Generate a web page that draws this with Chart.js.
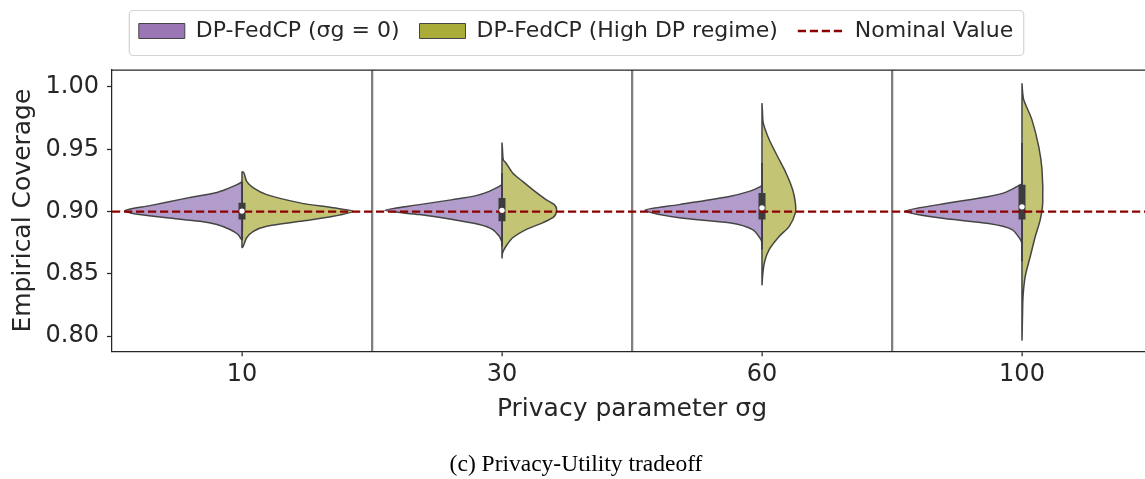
<!DOCTYPE html>
<html><head><meta charset="utf-8">
<script src="https://cdn.jsdelivr.net/npm/chart.js@4.4.1/dist/chart.umd.min.js"></script>
<style>html,body{margin:0;padding:0;overflow:hidden;background:#fff}#wrap{width:1160px;height:479px;position:relative}</style>
</head><body><div id="wrap"><canvas id="c"></canvas></div>
<script>
// ---------- data ----------
const categories = ['10', '30', '60', '100'];
const yTicks = [0.80, 0.85, 0.90, 0.95, 1.00];
const nominalValue = 0.90;
const seriesNames = ['DP-FedCP (σg = 0)', 'DP-FedCP (High DP regime)', 'Nominal Value'];

// DP-FedCP (sigma_g = 0): coverage levels (top -> bottom) and relative density
const baseLevels10 = [0.9238, 0.9216, 0.9182, 0.9154, 0.9102, 0.9048, 0.9008, 0.8984, 0.8950, 0.8922, 0.8896, 0.8856, 0.8816, 0.8776];
const baseDensity10 = [0, 0.043, 0.128, 0.214, 0.504, 0.786, 1, 0.932, 0.641, 0.359, 0.214, 0.103, 0.034, 0];
const baseLevels30 = [0.9216, 0.9202, 0.9162, 0.9128, 0.9096, 0.9056, 0.9010, 0.8976, 0.8936, 0.8896, 0.8856, 0.8802, 0.8762];
const baseDensity30 = [0, 0.023, 0.109, 0.222, 0.421, 0.707, 1, 0.707, 0.421, 0.194, 0.079, 0.023, 0];
const baseLevels60 = [0.9216, 0.9202, 0.9162, 0.9122, 0.9056, 0.9010, 0.8950, 0.8910, 0.8856, 0.8776, 0.8750];
const baseDensity60 = [0, 0.009, 0.109, 0.279, 0.707, 1, 0.707, 0.279, 0.080, 0.009, 0];
const baseLevels100 = [0.9222, 0.9208, 0.9154, 0.9122, 0.9056, 0.9002, 0.8950, 0.8904, 0.8856, 0.8776, 0.8750];
const baseDensity100 = [0, 0.028, 0.142, 0.285, 0.712, 1, 0.712, 0.285, 0.085, 0.014, 0];

// DP-FedCP (High DP regime)
const highLevels10 = [0.9322, 0.9310, 0.9242, 0.9190, 0.9136, 0.9070, 0.9030, 0.9002, 0.8962, 0.8922, 0.8882, 0.8842, 0.8790, 0.8722, 0.8712];
const highDensity10 = [0, 0.017, 0.040, 0.097, 0.211, 0.496, 0.780, 0.951, 0.780, 0.496, 0.211, 0.097, 0.040, 0.011, 0];
const highLevels30 = [0.9554, 0.9500, 0.9416, 0.9390, 0.9310, 0.9242, 0.9176, 0.9096, 0.9056, 0.9016, 0.8962, 0.8910, 0.8856, 0.8790, 0.8722, 0.8670, 0.8630];
const highDensity30 = [0, 0.004, 0.011, 0.034, 0.091, 0.176, 0.262, 0.376, 0.447, 0.467, 0.447, 0.347, 0.205, 0.091, 0.034, 0.005, 0];
const highLevels60 = [0.9870, 0.9800, 0.9710, 0.9576, 0.9442, 0.9310, 0.9176, 0.9070, 0.8990, 0.8882, 0.8802, 0.8696, 0.8590, 0.8482, 0.8416];
const highDensity60 = [0, 0.004, 0.011, 0.062, 0.133, 0.205, 0.262, 0.285, 0.285, 0.233, 0.148, 0.062, 0.020, 0.005, 0];
const highLevels100 = [1.0030, 0.9960, 0.9896, 0.9736, 0.9522, 0.9336, 0.9070, 0.8936, 0.8802, 0.8642, 0.8482, 0.8322, 0.8150, 0.7976];
const highDensity100 = [0, 0.005, 0.015, 0.085, 0.143, 0.171, 0.177, 0.156, 0.114, 0.071, 0.028, 0.009, 0.004, 0];

// inner box statistics (combined)
const boxQ1 = [0.8936, 0.8922, 0.8936, 0.8936];
const boxQ3 = [0.9070, 0.9110, 0.9150, 0.9216];
const medians = [0.9004, 0.9010, 0.9030, 0.9038];
const whiskerLow = [0.8776, 0.8720, 0.8696, 0.8602];
const whiskerHigh = [0.9240, 0.9310, 0.9390, 0.9550];

// ---------- styling ----------
const FONT = 'DejaVu Sans';
const INK = '#262626';
const PURPLE_FILL = '#b29ccb', PURPLE_SWATCH = '#9a76b5';
const OLIVE_FILL = '#c4c574', OLIVE_SWATCH = '#a9ac38';
const EDGE = '#454545';
const HALF_WIDTH = 0.45;

const baseLevels = [baseLevels10, baseLevels30, baseLevels60, baseLevels100];
const baseDensity = [baseDensity10, baseDensity30, baseDensity60, baseDensity100];
const highLevels = [highLevels10, highLevels30, highLevels60, highLevels100];
const highDensity = [highDensity10, highDensity30, highDensity60, highDensity100];

function halfShape(i, levels, dens, side) {
  const pts = levels.map((v, j) => ({ x: i + side * dens[j] * HALF_WIDTH, y: v }));
  pts.push({ x: i, y: levels[0] });
  return pts;
}

const datasets = [];
categories.forEach((c, i) => {
  datasets.push({ label: seriesNames[0] + ' ' + c, data: halfShape(i, baseLevels[i], baseDensity[i], -1),
    showLine: true, fill: 'shape', backgroundColor: PURPLE_FILL, borderColor: EDGE, borderWidth: 1.5,
    pointRadius: 0, tension: 0.28, order: 5 });
  datasets.push({ label: seriesNames[1] + ' ' + c, data: halfShape(i, highLevels[i], highDensity[i], 1),
    showLine: true, fill: 'shape', backgroundColor: OLIVE_FILL, borderColor: EDGE, borderWidth: 1.5,
    pointRadius: 0, tension: 0.28, order: 5 });
});
datasets.push({ label: 'whiskers', data: categories.flatMap((c, i) => [{ x: i, y: whiskerLow[i] }, { x: i, y: whiskerHigh[i] }, { x: i, y: null }]),
  showLine: true, borderColor: '#3c3c3c', borderWidth: 1.6, pointRadius: 0, spanGaps: false, order: 4 });
datasets.push({ label: 'boxes', data: categories.flatMap((c, i) => [{ x: i, y: boxQ1[i] }, { x: i, y: boxQ3[i] }, { x: i, y: null }]),
  showLine: true, borderColor: '#3c3c3c', borderWidth: 7, borderCapStyle: 'butt', pointRadius: 0, spanGaps: false, order: 3 });
datasets.push({ label: seriesNames[2], data: [{ x: -0.5, y: nominalValue }, { x: categories.length - 0.5, y: nominalValue }],
  showLine: true, borderColor: '#8b0000', borderWidth: 2.3, borderDash: [8.2, 3.8], pointRadius: 0, order: 2 });
datasets.push({ label: 'medians', data: categories.map((c, i) => ({ x: i, y: medians[i] })),
  showLine: false, pointRadius: 2.7, pointBackgroundColor: '#ffffff', pointBorderWidth: 0, order: 1 });

const xTickValues = [];
for (let v = -0.5; v <= categories.length - 0.5 + 1e-9; v += 0.5) xTickValues.push(v);
const isSep = v => !Number.isInteger(v) && v > -0.5 && v < categories.length - 0.5;

const legendFit = { id: 'legendFit', beforeLayout(chart) {
  const lg = chart.legend;
  if (lg && !lg._patched) { const f = lg.fit; lg.fit = function () { f.call(this); this.height = 70; }; lg._patched = true; }
} };
const legendFrame = { id: 'legendFrame', afterDraw(chart) {
  const hb = chart.legend.legendHitBoxes; if (!hb || !hb.length) return;
  const ctx = chart.ctx;
  const l = hb[0].left - 10, r = hb[hb.length - 1].left + hb[hb.length - 1].width + 10;
  ctx.save(); ctx.strokeStyle = '#d4d4d4'; ctx.lineWidth = 1.2;
  ctx.beginPath(); ctx.roundRect(l + 0.5, 10.5, r - l, 45, 4); ctx.stroke(); ctx.restore();
} };
const frame = { id: 'frame', afterDatasetsDraw(chart) {
  const a = chart.chartArea, ctx = chart.ctx;
  ctx.save(); ctx.strokeStyle = INK; ctx.lineWidth = 1.25;
  ctx.beginPath(); ctx.moveTo(a.left, a.top); ctx.lineTo(a.right, a.top); ctx.lineTo(a.right, a.bottom); ctx.stroke(); ctx.restore();
} };

Chart.defaults.font.family = FONT;
new Chart(document.getElementById('c'), {
  type: 'scatter',
  data: { datasets },
  options: {
    responsive: true, maintainAspectRatio: false, animation: false,
    layout: { padding: { left: 0, right: 8, top: 0, bottom: 0 } },
    plugins: {
      tooltip: { enabled: false },
      legend: {
        position: 'top',
        labels: {
          usePointStyle: true, pointStyleWidth: 46, boxHeight: 15, padding: 20,
          font: { family: FONT, size: 22 }, color: INK,
          generateLabels: () => [
            { text: seriesNames[0], fillStyle: PURPLE_SWATCH, strokeStyle: EDGE, lineWidth: 1, pointStyle: 'rect', fontColor: INK },
            { text: seriesNames[1], fillStyle: OLIVE_SWATCH, strokeStyle: EDGE, lineWidth: 1, pointStyle: 'rect', fontColor: INK },
            { text: seriesNames[2], fillStyle: 'rgba(0,0,0,0)', strokeStyle: '#8b0000', lineWidth: 2.3, lineDash: [8.2, 3.8], pointStyle: 'line', fontColor: INK }
          ]
        }
      },
      title: { display: true, position: 'bottom', text: '(c) Privacy-Utility tradeoff',
        font: { family: 'Liberation Serif', size: 23.5, weight: 'normal' }, color: '#000', padding: { top: 9, bottom: 0 } }
    },
    scales: {
      x: {
        type: 'linear', min: -0.5, max: categories.length - 0.5,
        afterBuildTicks: s => { s.ticks = xTickValues.map(v => ({ value: v })); },
        afterFit: s => { s.height = 90.6; },
        ticks: { autoSkip: false, maxRotation: 0, padding: 4, color: INK, font: { family: FONT, size: 24 },
          callback: v => Number.isInteger(v) ? categories[v] : '' },
        grid: { drawOnChartArea: true, lineWidth: 2.3, tickLength: 5, tickWidth: 1.25,
          color: c => (c.tick && isSep(c.tick.value)) ? '#808080' : 'rgba(0,0,0,0)',
          tickColor: c => (c.tick && Number.isInteger(c.tick.value)) ? INK : 'rgba(0,0,0,0)' },
        border: { color: INK, width: 1.25 },
        title: { display: true, text: 'Privacy parameter σg', color: INK, font: { family: FONT, size: 25 }, padding: { top: 0, bottom: 17 } }
      },
      y: {
        min: 0.788, max: 1.0136,
        afterBuildTicks: s => { s.ticks = yTicks.map(v => ({ value: v })); },
        afterFit: s => { s.width = 112; },
        ticks: { padding: 8, color: INK, font: { family: FONT, size: 24 }, callback: v => v.toFixed(2) },
        grid: { drawOnChartArea: false, tickLength: 5, tickWidth: 1.25, tickColor: INK },
        border: { color: INK, width: 1.25 },
        title: { display: true, text: 'Empirical Coverage', color: INK, font: { family: FONT, size: 25 }, padding: { top: 8, bottom: 0 } }
      }
    }
  },
  plugins: [legendFit, legendFrame, frame]
});
</script></body></html>
